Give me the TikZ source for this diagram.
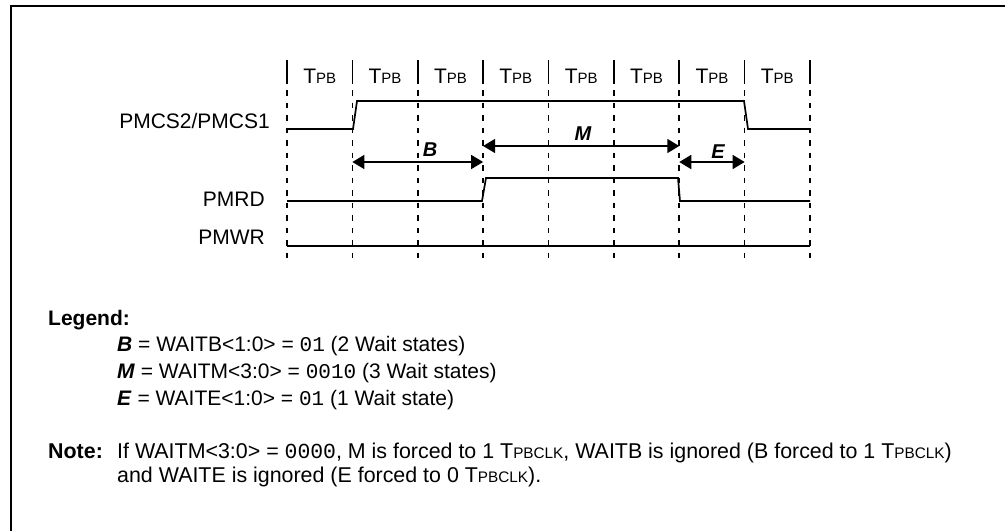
\documentclass[tikz,border=0pt]{standalone}
\usepackage{fontspec}
\setmainfont{Liberation Sans}
\newfontfamily\monofont{Liberation Mono}
\usetikzlibrary{arrows.meta}
\newcommand{\tpbsub}[1]{T{\fontsize{15}{15}\selectfont #1}}
\newcommand{\tpbsubn}[1]{T{\fontsize{15.3}{15}\selectfont #1}}
\begin{document}
\begin{tikzpicture}[x=1pt,y=-1pt,
  sig/.style={line width=1.7pt},
  gridline/.style={line width=1.7pt, dash pattern=on 5.5pt off 7pt},
  bar/.style={line width=1.7pt},
  frame/.style={line width=2pt},
  dim/.style={line width=1.7pt, {Triangle[length=12pt,width=14pt]}-{Triangle[length=12pt,width=14pt]}},
  lbl/.style={font=\fontsize{21}{24}\selectfont, inner sep=0pt},
  txt/.style={font=\fontsize{21}{24}\selectfont, inner sep=0pt, anchor=base west},
  notetxt/.style={font=\fontsize{21.4}{24}\selectfont, inner sep=0pt, anchor=base west},
  dimlbl/.style={font=\fontsize{20}{24}\selectfont\bfseries\itshape, inner sep=0pt}]
\useasboundingbox (0,0) rectangle (1005,531);
\coordinate (fr1) at (1005,6);
\coordinate (fr2) at (11,6);
\coordinate (fr3) at (11,531);
\draw[frame] (fr1) -- (fr2) -- (fr3);
% grid
\foreach \i in {0,...,8} {
  \coordinate (t\i) at ({287+65.375*\i},60);
  \coordinate (m\i) at ({287+65.375*\i},84);
  \coordinate (d\i) at ({287+65.375*\i},90);
  \coordinate (b\i) at ({287+65.375*\i},263);
  \draw[bar] (t\i) -- (m\i);
  \draw[gridline] (d\i) -- (b\i);
}
\foreach \i in {0,...,7} {
  \node[lbl, anchor=base] (tp\i) at ({287+65.375*(\i+0.5)},83) {\tpbsub{PB}};
}
% signal names
\node[lbl, anchor=base east] (ncs) at (270,128) {PMCS2/PMCS1};
\node[lbl, anchor=base east] (nrd) at (265,206) {PMRD};
\node[lbl, anchor=base east] (nwr) at (265,244) {PMWR};
% waveforms
\draw[sig] (287,129) -- (353,129) -- (357,101) -- (744,101) -- (748,129) -- (810,129);
\draw[sig] (287,201) -- (482,201) -- (486,178) -- (678,178) -- (680,201) -- (810,201);
\draw[sig] (287,246) -- (810,246);
% dimension arrows
\coordinate (ylow) at (0,162);
\coordinate (yhigh) at (0,146);
\draw[dim] (m1 |- ylow) -- (m3 |- ylow);
\draw[dim] (m3 |- yhigh) -- (m6 |- yhigh);
\draw[dim] (m6 |- ylow) -- (m7 |- ylow);
\node[dimlbl] (lB) at (430,150) {B};
\node[dimlbl] (lM) at (583,134) {M};
\node[dimlbl] (lE) at (718,152) {E};
% legend
\node[txt] (leg) at (48,325) {\bfseries Legend:};
\node[txt] (lgB) at (117,351) {\textbf{\textit{B}} = WAITB<1:0> = {\monofont 01} (2 Wait states)};
\node[txt] (lgM) at (117,378) {\textbf{\textit{M}} = WAITM<3:0> = {\monofont 0010} (3 Wait states)};
\node[txt] (lgE) at (117,405) {\textbf{\textit{E}} = WAITE<1:0> = {\monofont 01} (1 Wait state)};
% note
\node[notetxt] (nt) at (48,458) {\bfseries Note:};
\node[notetxt] (n1) at (117,458) {If WAITM<3:0> = {\monofont 0000}, M is forced to 1 \tpbsubn{PBCLK}, WAITB is ignored (B forced to 1 \tpbsubn{PBCLK})};
\node[notetxt] (n2) at (117,482) {and WAITE is ignored (E forced to 0 \tpbsubn{PBCLK}).};
\end{tikzpicture}
\end{document}
